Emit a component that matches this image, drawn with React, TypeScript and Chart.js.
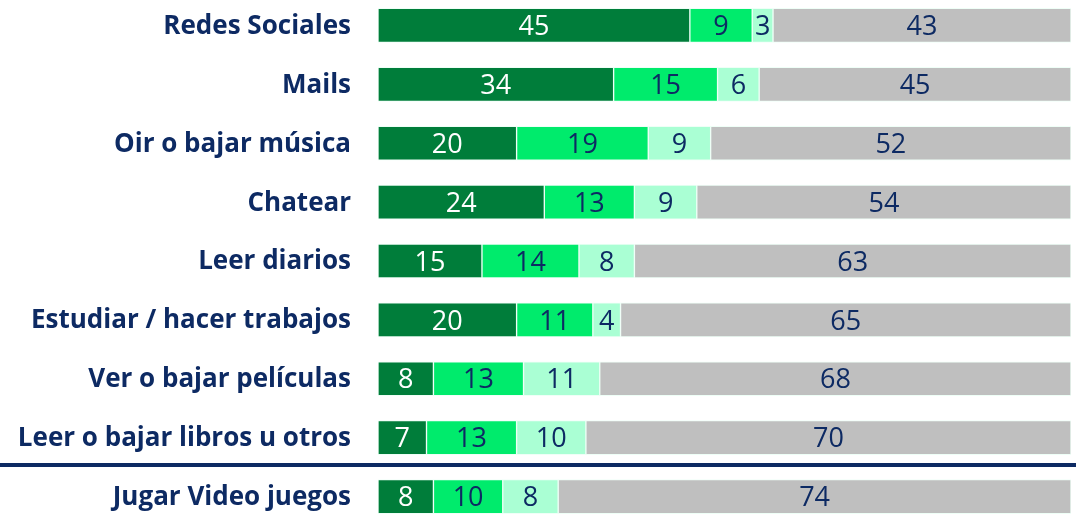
import React, { useEffect, useRef } from "react";
import { Chart, registerables } from "chart.js";

Chart.register(...registerables);

const categories = [
  "Redes Sociales",
  "Mails",
  "Oir o bajar música",
  "Chatear",
  "Leer diarios",
  "Estudiar / hacer trabajos",
  "Ver o bajar películas",
  "Leer o bajar libros u otros",
  "Jugar Video juegos",
];
const seriesA = [45, 34, 20, 24, 15, 20, 8, 7, 8];
const seriesB = [9, 15, 19, 13, 14, 11, 13, 13, 10];
const seriesC = [3, 6, 9, 9, 8, 4, 11, 10, 8];
const seriesD = [43, 45, 52, 54, 63, 65, 68, 70, 74];
const seriesNames = ["A", "B", "C", "D"];

const colors = ["#007D3A", "#00EB6C", "#AAFFD4", "#BFBFBF"];
const labelColors = ["#FFFFFF", "#0D2A63", "#0D2A63", "#0D2A63"];
const navy = "#0D2A63";

const valueLabels = {
  id: "valueLabels",
  afterDatasetsDraw(chart: any) {
    const ctx = chart.ctx;
    ctx.save();
    ctx.font = "400 27px 'Open Sans'";
    ctx.textAlign = "center";
    ctx.textBaseline = "middle";
    chart.data.datasets.forEach((ds: any, di: number) => {
      const meta = chart.getDatasetMeta(di);
      meta.data.forEach((bar: any, i: number) => {
        const { x, base, y } = bar.getProps(["x", "base", "y"], true);
        ctx.fillStyle = labelColors[di];
        ctx.fillText(String(ds.data[i]), (x + base) / 2, y + 2);
      });
    });
    // category labels
    const yScale = chart.scales.y;
    ctx.font = "bold 26px 'Open Sans'";
    ctx.textAlign = "right";
    ctx.fillStyle = navy;
    chart.data.labels.forEach((lab: string, i: number) => {
      ctx.fillText(lab, chart.chartArea.left - 27, yScale.getPixelForValue(i) + 1);
    });
    ctx.restore();
  },
};

const separator = {
  id: "separator",
  afterDraw(chart: any) {
    const yScale = chart.scales.y;
    const y1 = yScale.getPixelForValue(7);
    const y2 = yScale.getPixelForValue(8);
    const yy = (y1 + y2) / 2 - 2;
    const ctx = chart.ctx;
    ctx.save();
    ctx.strokeStyle = navy;
    ctx.lineWidth = 4;
    ctx.beginPath();
    ctx.moveTo(0, yy);
    ctx.lineTo(chart.width, yy);
    ctx.stroke();
    ctx.restore();
  },
};

export default function App() {
  const ref = useRef<HTMLCanvasElement>(null);
  useEffect(() => {
    document.body.style.margin = "0";
    document.body.style.overflow = "hidden";
    const data = [seriesA, seriesB, seriesC, seriesD];
    const chart = new Chart(ref.current!, {
      type: "bar",
      data: {
        labels: categories,
        datasets: data.map((d, i) => ({
          label: seriesNames[i],
          data: d,
          backgroundColor: colors[i],
          borderColor: "rgba(235,255,245,0.8)",
          borderWidth: 1,
          borderSkipped: false,
          barThickness: 34,
        })),
      },
      options: {
        indexAxis: "y",
        animation: false,
        responsive: false,
        maintainAspectRatio: false,
        layout: { padding: { left: 0, right: 5, top: 0, bottom: 0 } },
        plugins: { legend: { display: false }, tooltip: { enabled: false } },
        scales: {
          x: { stacked: true, min: 0, max: 100, display: false },
          y: {
            stacked: true,
            grid: { display: false, drawTicks: false },
            border: { display: false },
            ticks: { display: false },
            afterFit(scale: any) {
              scale.width = 378;
              scale.paddingTop = 0;
              scale.paddingBottom = 0;
            },
          },
        },
      },
      plugins: [valueLabels, separator],
    });
    return () => chart.destroy();
  }, []);
  return (
    <div style={{ position: "fixed", left: 0, top: 0, width: 1076, height: 519, overflow: "hidden", background: "#fff" }}>
      <canvas
        ref={ref}
        width={1076}
        height={530}
        style={{ position: "absolute", left: 0, top: -4, width: 1076, height: 530, display: "block" }}
      />
    </div>
  );
}
